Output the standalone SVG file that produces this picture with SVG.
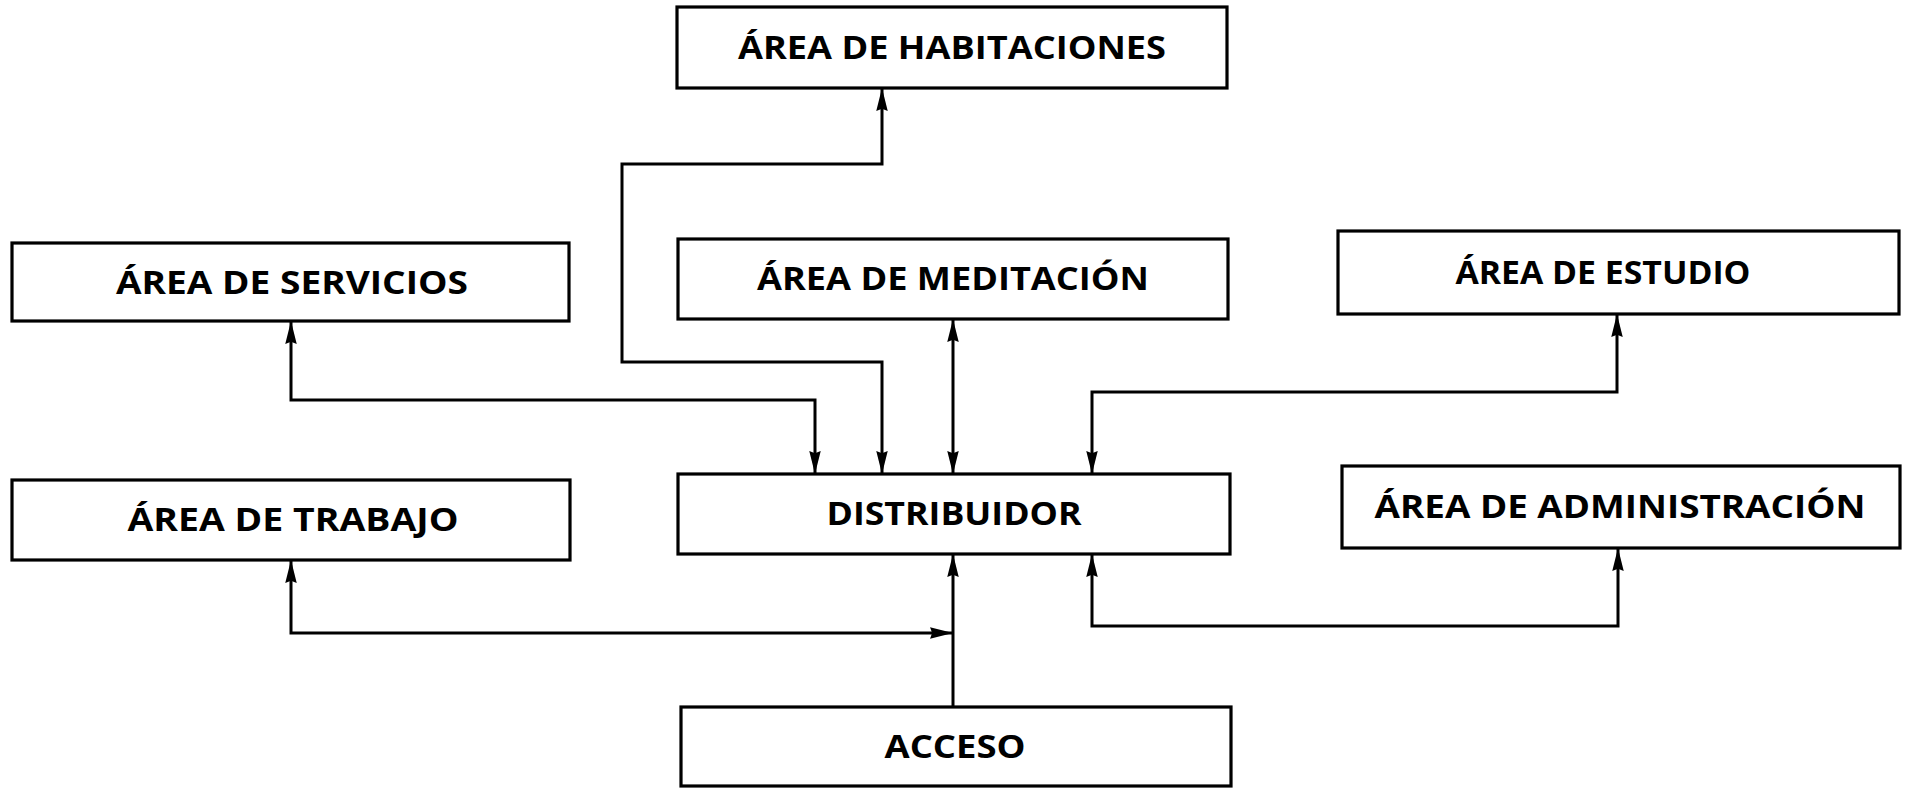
<svg xmlns="http://www.w3.org/2000/svg" width="1909" height="788" viewBox="0 0 1909 788">
<style>
.box{fill:#fff;stroke:#000;stroke-width:3.2}
.lbl{font-family:"Open Sans","Liberation Sans",sans-serif;font-weight:700;font-size:32px;fill:#000;text-anchor:middle}
.con{fill:none;stroke:#000;stroke-width:3;stroke-linejoin:miter}
</style>
<defs>
<marker id="ah" markerUnits="userSpaceOnUse" markerWidth="24" markerHeight="14" refX="22" refY="6" orient="auto-start-reverse" viewBox="0 0 23 12">
<path d="M0,0.5 L22,6 L0,11.5 L2,6 z" fill="#000"/>
</marker>
</defs>
<rect width="1909" height="788" fill="#fff"/>
<g id="connectors">
<path class="con" d="M882,474 V362 H622 V164 H882 V88" marker-start="url(#ah)" marker-end="url(#ah)"/>
<path class="con" d="M815,474 V400 H291 V321" marker-start="url(#ah)" marker-end="url(#ah)"/>
<path class="con" d="M953,319 V474" marker-start="url(#ah)" marker-end="url(#ah)"/>
<path class="con" d="M1092,474 V392 H1617 V314" marker-start="url(#ah)" marker-end="url(#ah)"/>
<path class="con" d="M291,560 V633 H953" marker-start="url(#ah)" marker-end="url(#ah)"/>
<path class="con" d="M953,707 V554" marker-end="url(#ah)"/>
<path class="con" d="M1092,554 V626 H1618 V548" marker-start="url(#ah)" marker-end="url(#ah)"/>
</g>
<g id="habitaciones"><rect class="box" x="677" y="7" width="550" height="81"/><text class="lbl" x="952" y="59" textLength="428" lengthAdjust="spacingAndGlyphs">ÁREA DE HABITACIONES</text></g>
<g id="servicios"><rect class="box" x="12" y="243" width="557" height="78"/><text class="lbl" x="292" y="294" textLength="352" lengthAdjust="spacingAndGlyphs">ÁREA DE SERVICIOS</text></g>
<g id="meditacion"><rect class="box" x="678" y="239" width="550" height="80"/><text class="lbl" x="953" y="290" textLength="392" lengthAdjust="spacingAndGlyphs">ÁREA DE MEDITACIÓN</text></g>
<g id="estudio"><rect class="box" x="1338" y="231" width="561" height="83"/><text class="lbl" x="1603" y="284" textLength="295" lengthAdjust="spacingAndGlyphs">ÁREA DE ESTUDIO</text></g>
<g id="trabajo"><rect class="box" x="12" y="480" width="558" height="80"/><text class="lbl" x="293" y="531" textLength="331" lengthAdjust="spacingAndGlyphs">ÁREA DE TRABAJO</text></g>
<g id="distribuidor"><rect class="box" x="678" y="474" width="552" height="80"/><text class="lbl" x="954" y="525" textLength="255" lengthAdjust="spacingAndGlyphs">DISTRIBUIDOR</text></g>
<g id="administracion"><rect class="box" x="1342" y="466" width="558" height="82"/><text class="lbl" x="1620" y="518" textLength="491" lengthAdjust="spacingAndGlyphs">ÁREA DE ADMINISTRACIÓN</text></g>
<g id="acceso"><rect class="box" x="681" y="707" width="550" height="79"/><text class="lbl" x="955" y="758" textLength="141" lengthAdjust="spacingAndGlyphs">ACCESO</text></g>
</svg>
